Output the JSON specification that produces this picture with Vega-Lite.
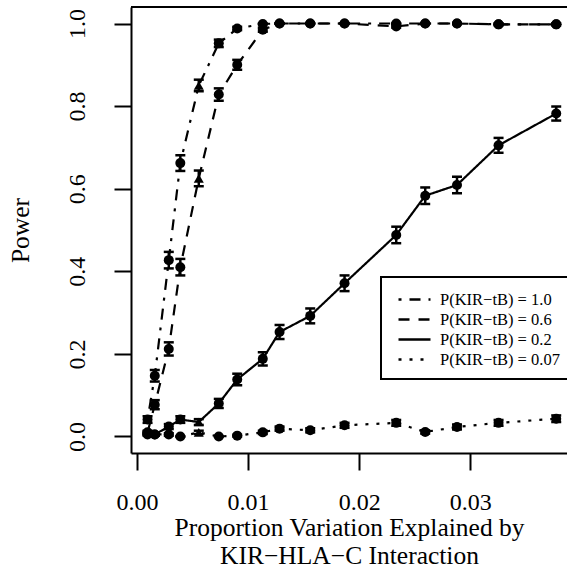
{
  "$schema": "https://vega.github.io/schema/vega-lite/v6.json",
  "width": 436,
  "height": 446,
  "autosize": "none",
  "padding": {"left": 131, "top": 7, "right": 0, "bottom": 128},
  "background": "white",
  "config": {
    "view": {"stroke": null},
    "font": "Liberation Serif",
    "axis": {
      "domainColor": "black", "domainWidth": 2, "tickColor": "black", "tickWidth": 2, "tickSize": 17,
      "labelFont": "Liberation Serif", "labelFontSize": 24, "labelColor": "black",
      "titleFont": "Liberation Serif", "titleFontSize": 25.5, "titleFontWeight": "normal", "titleColor": "black",
      "grid": false
    },
    "legend": {"strokeWidth": 2}
  },
  "data": {"values": [
    {"s": "P(KIR−tB) = 1.0", "x": 0.00095, "p": 0.041, "lo": 0.033, "hi": 0.049, "m": "c"},
    {"s": "P(KIR−tB) = 1.0", "x": 0.0016, "p": 0.147, "lo": 0.133, "hi": 0.161, "m": "c"},
    {"s": "P(KIR−tB) = 1.0", "x": 0.00286, "p": 0.427, "lo": 0.407, "hi": 0.447, "m": "c"},
    {"s": "P(KIR−tB) = 1.0", "x": 0.0039, "p": 0.662, "lo": 0.643, "hi": 0.681, "m": "c"},
    {"s": "P(KIR−tB) = 1.0", "x": 0.00556, "p": 0.85, "lo": 0.836, "hi": 0.864, "m": "t"},
    {"s": "P(KIR−tB) = 1.0", "x": 0.00736, "p": 0.952, "lo": 0.943, "hi": 0.961, "m": "c"},
    {"s": "P(KIR−tB) = 1.0", "x": 0.00902, "p": 0.988, "lo": 0.984, "hi": 0.992, "m": "c"},
    {"s": "P(KIR−tB) = 1.0", "x": 0.01132, "p": 0.999, "lo": 0.998, "hi": 1.0, "m": "c"},
    {"s": "P(KIR−tB) = 1.0", "x": 0.01283, "p": 1.0, "lo": 1.0, "hi": 1.0, "m": "c"},
    {"s": "P(KIR−tB) = 1.0", "x": 0.01559, "p": 1.0, "lo": 1.0, "hi": 1.0, "m": "c"},
    {"s": "P(KIR−tB) = 1.0", "x": 0.01868, "p": 1.0, "lo": 1.0, "hi": 1.0, "m": "c"},
    {"s": "P(KIR−tB) = 1.0", "x": 0.02333, "p": 1.0, "lo": 1.0, "hi": 1.0, "m": "c"},
    {"s": "P(KIR−tB) = 1.0", "x": 0.02594, "p": 1.0, "lo": 1.0, "hi": 1.0, "m": "c"},
    {"s": "P(KIR−tB) = 1.0", "x": 0.0288, "p": 1.0, "lo": 1.0, "hi": 1.0, "m": "c"},
    {"s": "P(KIR−tB) = 1.0", "x": 0.03254, "p": 0.998, "lo": 0.996, "hi": 1.0, "m": "c"},
    {"s": "P(KIR−tB) = 1.0", "x": 0.03773, "p": 0.998, "lo": 0.996, "hi": 1.0, "m": "c"},

    {"s": "P(KIR−tB) = 0.6", "x": 0.00095, "p": 0.01, "lo": 0.006, "hi": 0.014, "m": "c"},
    {"s": "P(KIR−tB) = 0.6", "x": 0.0016, "p": 0.077, "lo": 0.066, "hi": 0.088, "m": "c"},
    {"s": "P(KIR−tB) = 0.6", "x": 0.00286, "p": 0.212, "lo": 0.196, "hi": 0.228, "m": "c"},
    {"s": "P(KIR−tB) = 0.6", "x": 0.0039, "p": 0.41, "lo": 0.39, "hi": 0.43, "m": "c"},
    {"s": "P(KIR−tB) = 0.6", "x": 0.00556, "p": 0.625, "lo": 0.606, "hi": 0.644, "m": "t"},
    {"s": "P(KIR−tB) = 0.6", "x": 0.00736, "p": 0.828, "lo": 0.813, "hi": 0.843, "m": "c"},
    {"s": "P(KIR−tB) = 0.6", "x": 0.00902, "p": 0.9, "lo": 0.888, "hi": 0.912, "m": "c"},
    {"s": "P(KIR−tB) = 0.6", "x": 0.01132, "p": 0.985, "lo": 0.98, "hi": 0.99, "m": "c"},
    {"s": "P(KIR−tB) = 0.6", "x": 0.01283, "p": 1.0, "lo": 1.0, "hi": 1.0, "m": "c"},
    {"s": "P(KIR−tB) = 0.6", "x": 0.01559, "p": 1.0, "lo": 1.0, "hi": 1.0, "m": "c"},
    {"s": "P(KIR−tB) = 0.6", "x": 0.01868, "p": 1.0, "lo": 1.0, "hi": 1.0, "m": "c"},
    {"s": "P(KIR−tB) = 0.6", "x": 0.02333, "p": 0.993, "lo": 0.99, "hi": 0.996, "m": "c"},
    {"s": "P(KIR−tB) = 0.6", "x": 0.02594, "p": 1.0, "lo": 1.0, "hi": 1.0, "m": "c"},
    {"s": "P(KIR−tB) = 0.6", "x": 0.0288, "p": 1.0, "lo": 1.0, "hi": 1.0, "m": "c"},
    {"s": "P(KIR−tB) = 0.6", "x": 0.03254, "p": 0.998, "lo": 0.996, "hi": 1.0, "m": "c"},
    {"s": "P(KIR−tB) = 0.6", "x": 0.03773, "p": 0.998, "lo": 0.996, "hi": 1.0, "m": "c"},

    {"s": "P(KIR−tB) = 0.2", "x": 0.00095, "p": 0.008, "lo": 0.004, "hi": 0.012, "m": "c"},
    {"s": "P(KIR−tB) = 0.2", "x": 0.0016, "p": 0.005, "lo": 0.002, "hi": 0.008, "m": "c"},
    {"s": "P(KIR−tB) = 0.2", "x": 0.00286, "p": 0.024, "lo": 0.018, "hi": 0.03, "m": "c"},
    {"s": "P(KIR−tB) = 0.2", "x": 0.0039, "p": 0.041, "lo": 0.033, "hi": 0.049, "m": "c"},
    {"s": "P(KIR−tB) = 0.2", "x": 0.00556, "p": 0.035, "lo": 0.028, "hi": 0.042, "m": "t"},
    {"s": "P(KIR−tB) = 0.2", "x": 0.00736, "p": 0.08, "lo": 0.069, "hi": 0.091, "m": "c"},
    {"s": "P(KIR−tB) = 0.2", "x": 0.00902, "p": 0.138, "lo": 0.124, "hi": 0.152, "m": "c"},
    {"s": "P(KIR−tB) = 0.2", "x": 0.01132, "p": 0.188, "lo": 0.172, "hi": 0.204, "m": "c"},
    {"s": "P(KIR−tB) = 0.2", "x": 0.01283, "p": 0.253, "lo": 0.236, "hi": 0.27, "m": "c"},
    {"s": "P(KIR−tB) = 0.2", "x": 0.01559, "p": 0.292, "lo": 0.274, "hi": 0.31, "m": "c"},
    {"s": "P(KIR−tB) = 0.2", "x": 0.01868, "p": 0.371, "lo": 0.352, "hi": 0.39, "m": "c"},
    {"s": "P(KIR−tB) = 0.2", "x": 0.02333, "p": 0.488, "lo": 0.468, "hi": 0.508, "m": "c"},
    {"s": "P(KIR−tB) = 0.2", "x": 0.02594, "p": 0.583, "lo": 0.563, "hi": 0.603, "m": "c"},
    {"s": "P(KIR−tB) = 0.2", "x": 0.0288, "p": 0.609, "lo": 0.589, "hi": 0.629, "m": "c"},
    {"s": "P(KIR−tB) = 0.2", "x": 0.03254, "p": 0.705, "lo": 0.687, "hi": 0.723, "m": "c"},
    {"s": "P(KIR−tB) = 0.2", "x": 0.03773, "p": 0.782, "lo": 0.765, "hi": 0.799, "m": "c"},

    {"s": "P(KIR−tB) = 0.07", "x": 0.00095, "p": 0.005, "lo": 0.002, "hi": 0.008, "m": "c"},
    {"s": "P(KIR−tB) = 0.07", "x": 0.0016, "p": 0.005, "lo": 0.002, "hi": 0.008, "m": "c"},
    {"s": "P(KIR−tB) = 0.07", "x": 0.00286, "p": 0.005, "lo": 0.002, "hi": 0.008, "m": "c"},
    {"s": "P(KIR−tB) = 0.07", "x": 0.0039, "p": 0.0, "lo": 0.0, "hi": 0.0, "m": "c"},
    {"s": "P(KIR−tB) = 0.07", "x": 0.00556, "p": 0.01, "lo": 0.006, "hi": 0.014, "m": "t"},
    {"s": "P(KIR−tB) = 0.07", "x": 0.00736, "p": 0.0, "lo": 0.0, "hi": 0.0, "m": "c"},
    {"s": "P(KIR−tB) = 0.07", "x": 0.00902, "p": 0.002, "lo": 0.0, "hi": 0.004, "m": "c"},
    {"s": "P(KIR−tB) = 0.07", "x": 0.01132, "p": 0.01, "lo": 0.006, "hi": 0.014, "m": "c"},
    {"s": "P(KIR−tB) = 0.07", "x": 0.01283, "p": 0.019, "lo": 0.014, "hi": 0.024, "m": "c"},
    {"s": "P(KIR−tB) = 0.07", "x": 0.01559, "p": 0.015, "lo": 0.01, "hi": 0.02, "m": "c"},
    {"s": "P(KIR−tB) = 0.07", "x": 0.01868, "p": 0.027, "lo": 0.021, "hi": 0.033, "m": "c"},
    {"s": "P(KIR−tB) = 0.07", "x": 0.02333, "p": 0.033, "lo": 0.026, "hi": 0.04, "m": "c"},
    {"s": "P(KIR−tB) = 0.07", "x": 0.02594, "p": 0.011, "lo": 0.007, "hi": 0.015, "m": "c"},
    {"s": "P(KIR−tB) = 0.07", "x": 0.0288, "p": 0.023, "lo": 0.017, "hi": 0.029, "m": "c"},
    {"s": "P(KIR−tB) = 0.07", "x": 0.03254, "p": 0.033, "lo": 0.026, "hi": 0.04, "m": "c"},
    {"s": "P(KIR−tB) = 0.07", "x": 0.03773, "p": 0.043, "lo": 0.035, "hi": 0.051, "m": "c"}
  ]},
  "layer": [
    {
      "mark": {"type": "line", "color": "black", "strokeWidth": 2.2},
      "encoding": {
        "x": {"field": "x", "type": "quantitative",
          "scale": {"domain": [-0.00054, 0.0387], "nice": false, "zero": false},
          "axis": {"values": [0, 0.01, 0.02, 0.03], "format": ".2f", "labelPadding": 20, "labelFlush": false,
            "labelFont": "Liberation Serif", "titleFont": "Liberation Serif", "labelFontSize": 24, "titleFontSize": 25.5,
            "title": ["Proportion Variation Explained by", "KIR−HLA−C Interaction"], "titlePadding": 1.5, "titleLineHeight": 28}},
        "y": {"field": "p", "type": "quantitative",
          "scale": {"domain": [-0.04, 1.04], "nice": false, "zero": false},
          "axis": {"values": [0, 0.2, 0.4, 0.6, 0.8, 1.0], "format": ".1f", "labelAngle": -90, "labelPadding": 25, "labelFlush": false,
            "labelFont": "Liberation Serif", "titleFont": "Liberation Serif", "labelFontSize": 24, "titleFontSize": 25.5,
            "title": "Power", "titlePadding": 32}},
        "strokeDash": {"field": "s", "type": "nominal",
          "scale": {"domain": ["P(KIR−tB) = 1.0", "P(KIR−tB) = 0.6", "P(KIR−tB) = 0.2", "P(KIR−tB) = 0.07"],
            "range": [[3, 8, 11, 8], [11, 9], [1, 0], [3, 8]]},
          "legend": {"orient": "none", "legendX": 250, "legendY": 270, "title": null,
            "strokeColor": "black", "fillColor": "white", "padding": 11,
            "symbolType": "M-0.5,0H2.7", "symbolSize": 400, "symbolStrokeWidth": 2.5, "symbolStrokeColor": "black",
            "labelFont": "Liberation Serif", "labelFontSize": 16.5, "labelColor": "black", "labelOffset": 25,
            "rowPadding": -3}}
      }
    },
    {
      "mark": {"type": "rule", "color": "black", "strokeWidth": 2},
      "encoding": {
        "x": {"datum": -0.00054, "type": "quantitative"},
        "x2": {"datum": 0.0387},
        "y": {"datum": 1.04, "type": "quantitative"}
      }
    },
    {
      "mark": {"type": "errorbar", "color": "black", "opacity": 1,
        "rule": {"strokeWidth": 2.5, "color": "black", "opacity": 1},
        "ticks": {"size": 10, "thickness": 2.5, "color": "black", "opacity": 1}},
      "encoding": {
        "x": {"field": "x", "type": "quantitative"},
        "y": {"field": "lo", "type": "quantitative", "title": "Power"},
        "y2": {"field": "hi"}
      }
    },
    {
      "mark": {"type": "point", "filled": true, "opacity": 1, "color": "black", "size": 100},
      "encoding": {
        "x": {"field": "x", "type": "quantitative"},
        "y": {"field": "p", "type": "quantitative", "title": "Power"},
        "shape": {"field": "m", "type": "nominal", "scale": {"domain": ["c", "t"], "range": ["circle", "triangle-up"]}, "legend": null}
      }
    }
  ]
}
